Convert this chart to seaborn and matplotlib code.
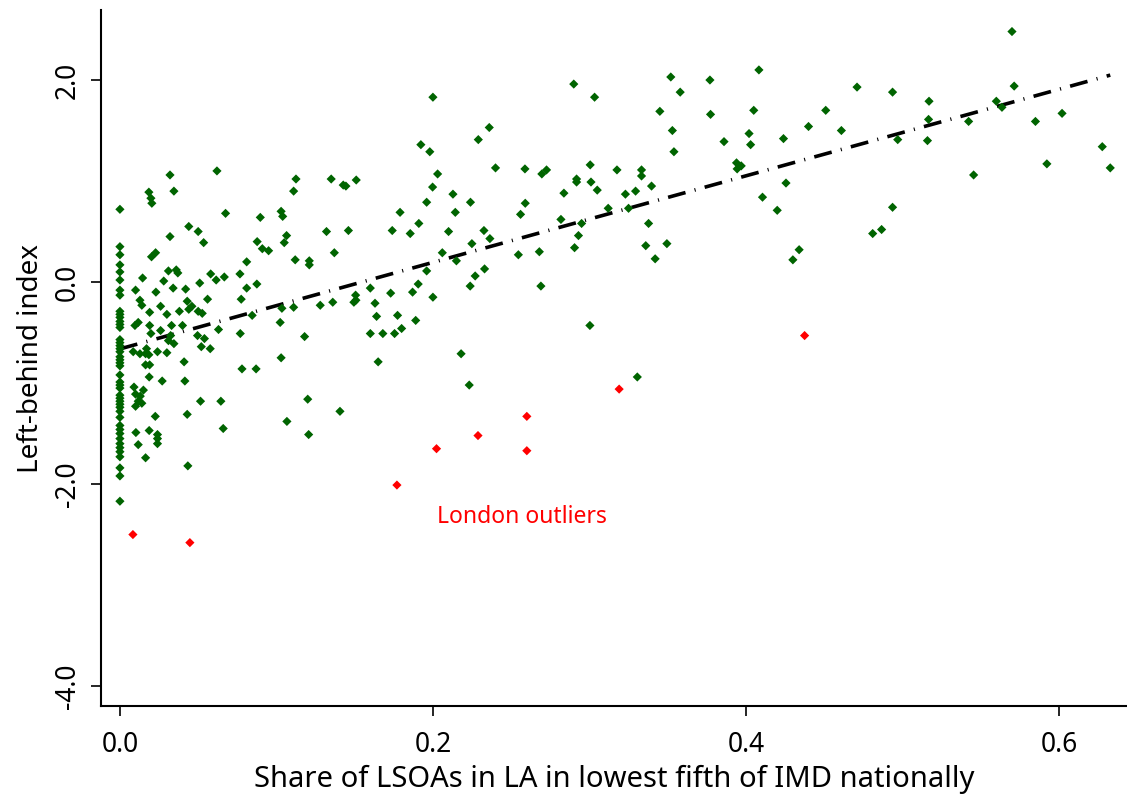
import numpy as np
import pandas as pd
import matplotlib
matplotlib.use("Agg")
import matplotlib.pyplot as plt
import seaborn as sns

# share of LSOAs in lowest IMD fifth (x) and left-behind index (y)
green_share = [
    # LAs with no LSOA in the lowest fifth
    0.0, 0.0, 0.0, 0.0, 0.0, 0.0, 0.0, 0.0, 0.0, 0.0, 0.0, 0.0, 0.0, 0.0, 0.0,
    0.0, 0.0, 0.0, 0.0, 0.0, 0.0, 0.0, 0.0, 0.0, 0.0, 0.0, 0.0, 0.0, 0.0, 0.0,
    0.0, 0.0, 0.0, 0.0, 0.0, 0.0, 0.0, 0.0, 0.0, 0.0, 0.0, 0.0, 0.0, 0.0, 0.0,
    # 0 - 0.07, upper half
    0.032, 0.062, 0.0185, 0.0345, 0.0198, 0.0204, 0.0675, 0.044, 0.050, 0.032,
    0.0535, 0.0228, 0.0202, 0.0145, 0.031, 0.036, 0.037, 0.028, 0.058, 0.0615,
    0.0667, 0.010, 0.034, 0.042, 0.023, 0.051, 0.0128, 0.014, 0.043, 0.056,
    0.026, 0.046, 0.044, 0.050, 0.0526, 0.019, 0.030, 0.038, 0.0117, 0.0096,
    0.019, 0.033, 0.040, 0.063,
    # 0 - 0.07, lower half
    0.0198, 0.026, 0.0324, 0.031, 0.0345, 0.0496, 0.054, 0.052, 0.0577, 0.017,
    0.0085, 0.0128, 0.0164, 0.0185, 0.024, 0.030, 0.0164, 0.019, 0.041, 0.0187,
    0.027, 0.0415, 0.009, 0.015, 0.010, 0.013, 0.0117, 0.014, 0.010, 0.0515,
    0.0645, 0.043, 0.0226, 0.0102, 0.0187, 0.024, 0.024, 0.024, 0.066, 0.0117,
    0.0164, 0.0434,
    # 0.07 - 0.2
    0.1125, 0.111, 0.135, 0.1427, 0.1444, 0.151, 0.196, 0.0897, 0.103, 0.104,
    0.179, 0.191, 0.132, 0.146, 0.174, 0.1855, 0.1065, 0.105, 0.0877, 0.091,
    0.095, 0.137, 0.081, 0.112, 0.121, 0.121, 0.0767, 0.081, 0.0875, 0.0775,
    0.196, 0.1906, 0.187, 0.160, 0.173, 0.1506, 0.1508, 0.1495, 0.163, 0.111,
    0.1035, 0.128, 0.136, 0.0845, 0.1024, 0.164, 0.1774, 0.189, 0.180,
    0.0769, 0.118, 0.160, 0.168, 0.1755, 0.103, 0.078, 0.087, 0.165, 0.120,
    0.1406, 0.1067, 0.1206,
    # 0.2 - 0.33
    0.200, 0.290, 0.3033, 0.236, 0.229, 0.1923, 0.198, 0.203, 0.240, 0.2588,
    0.2696, 0.2726, 0.3005, 0.3176, 0.1998, 0.2918, 0.2918, 0.301, 0.305, 0.2837,
    0.323, 0.3295, 0.2128, 0.224, 0.2143, 0.259, 0.256, 0.312, 0.325, 0.2818,
    0.295, 0.210, 0.2326, 0.2364, 0.293, 0.2249, 0.2905, 0.206, 0.215, 0.2546,
    0.268, 0.233, 0.227, 0.2238, 0.269, 0.200,
    0.3003, 0.218, 0.2232, 0.3306,
    # 0.33 - 0.48
    0.352, 0.377, 0.4083, 0.471, 0.358, 0.345, 0.3774, 0.405, 0.451, 0.353,
    0.440, 0.461, 0.402, 0.403, 0.386, 0.424, 0.354, 0.394, 0.397, 0.3944,
    0.3333, 0.3333, 0.3397, 0.4256, 0.4106, 0.420, 0.3378, 0.336, 0.3495, 0.342,
    0.434, 0.430, 0.481,
    # 0.48+
    0.570, 0.4937, 0.517, 0.5714, 0.560, 0.5636, 0.5167, 0.5423, 0.585, 0.602,
    0.497, 0.516, 0.6277, 0.6328, 0.5923, 0.5455, 0.4937, 0.4867,
]

green_index = [
    0.72, 0.35, 0.27, 0.17, 0.10, 0.02, -0.08, -0.13, -0.29, -0.32, -0.35, -0.39, -0.42, -0.45, -0.57,
    -0.60, -0.63, -0.66, -0.69, -0.74, -0.77, -0.80, -0.83, -0.92, -0.99, -1.02, -1.05, -1.12, -1.15, -1.18,
    -1.21, -1.24, -1.28, -1.34, -1.42, -1.46, -1.50, -1.55, -1.60, -1.64, -1.68, -1.73, -1.84, -1.92, -2.17,

    1.06, 1.10, 0.89, 0.90, 0.83, 0.78, 0.68, 0.55, 0.50, 0.45,
    0.39, 0.29, 0.25, 0.04, 0.11, 0.12, 0.09, 0.01, 0.08, 0.02,
    0.05, -0.08, -0.06, -0.07, -0.10, -0.01, -0.18, -0.23, -0.19, -0.17,
    -0.24, -0.24, -0.27, -0.29, -0.31, -0.30, -0.32, -0.29, -0.40, -0.43,
    -0.43, -0.43, -0.43, -0.47,

    -0.51, -0.48, -0.53, -0.58, -0.61, -0.53, -0.56, -0.64, -0.66, -0.66,
    -0.69, -0.71, -0.71, -0.72, -0.69, -0.70, -0.82, -0.82, -0.79, -0.94,
    -0.98, -0.98, -1.04, -1.07, -1.11, -1.13, -1.18, -1.20, -1.23, -1.18,
    -1.18, -1.31, -1.33, -1.49, -1.47, -1.51, -1.55, -1.60, -1.45, -1.61,
    -1.74, -1.82,

    1.02, 0.90, 1.02, 0.96, 0.95, 1.01, 0.79, 0.64, 0.70, 0.65,
    0.69, 0.58, 0.50, 0.51, 0.51, 0.48, 0.46, 0.39, 0.40, 0.33,
    0.31, 0.29, 0.20, 0.22, 0.21, 0.17, 0.08, -0.06, -0.02, -0.17,
    0.11, -0.02, -0.10, -0.06, -0.11, -0.13, -0.18, -0.20, -0.21, -0.25,
    -0.26, -0.23, -0.20, -0.33, -0.40, -0.34, -0.33, -0.38, -0.46,
    -0.51, -0.54, -0.51, -0.51, -0.51, -0.75, -0.86, -0.86, -0.79, -1.16,
    -1.28, -1.38, -1.51,

    1.83, 1.96, 1.83, 1.53, 1.41, 1.36, 1.29, 1.07, 1.13, 1.12,
    1.07, 1.11, 1.16, 1.11, 0.94, 1.02, 0.99, 0.99, 0.91, 0.88,
    0.87, 0.90, 0.87, 0.79, 0.69, 0.78, 0.67, 0.73, 0.73, 0.62,
    0.58, 0.50, 0.51, 0.43, 0.46, 0.38, 0.34, 0.29, 0.21, 0.27,
    0.30, 0.13, 0.06, -0.04, -0.04, -0.15,
    -0.43, -0.71, -1.02, -0.94,

    2.03, 2.00, 2.10, 1.93, 1.88, 1.69, 1.66, 1.70, 1.70, 1.50,
    1.54, 1.50, 1.47, 1.36, 1.39, 1.42, 1.29, 1.18, 1.15, 1.12,
    1.11, 1.05, 0.95, 0.98, 0.84, 0.71, 0.58, 0.36, 0.38, 0.23,
    0.32, 0.22, 0.48,

    2.48, 1.88, 1.79, 1.94, 1.79, 1.73, 1.61, 1.59, 1.59, 1.67,
    1.41, 1.40, 1.34, 1.13, 1.17, 1.06, 0.74, 0.52,
]

# London outliers
red_share = [0.0083, 0.0447, 0.177, 0.2023, 0.2288, 0.260, 0.260, 0.319, 0.4375]
red_index = [-2.50, -2.58, -2.01, -1.65, -1.52, -1.33, -1.67, -1.06, -0.53]

xticks = [0.0, 0.2, 0.4, 0.6]
yticks = [-4.0, -2.0, 0.0, 2.0]

df = pd.DataFrame({
    "share": green_share + red_share,
    "index": green_index + red_index,
    "group": ["Other"] * len(green_share) + ["London"] * len(red_share),
})

sns.set_style("white")
plt.rcParams["font.family"] = ["Noto Sans", "DejaVu Sans"]
plt.rcParams["text.color"] = "black"
plt.rcParams["axes.labelcolor"] = "black"
plt.rcParams["xtick.color"] = "black"
plt.rcParams["ytick.color"] = "black"

fig = plt.figure(figsize=(11.27, 7.96), dpi=100)
ax = fig.add_axes([0.0896, 0.113, 0.9104, 0.8744])

sns.scatterplot(data=df, x="share", y="index", hue="group",
                palette={"Other": "#006400", "London": "#ff0000"},
                marker="D", s=22, linewidth=0, legend=False, ax=ax, zorder=3)

# fitted line, long dash - dot
sns.regplot(data=df, x="share", y="index", scatter=False, ci=None, ax=ax,
            line_kws=dict(color="black", lw=2.6, dashes=(5, 2.6, 0.3, 2.6)))

ax.text(0.2026, -2.33, "London outliers", color="red", fontsize=16.5, va="center", ha="left")

ax.set_xlim(-0.0121, 0.6435)
ax.set_ylim(-4.198, 2.693)
ax.set_xticks(xticks)
ax.set_xticklabels([f"{t:.1f}" for t in xticks])
ax.set_yticks(yticks)
ax.set_yticklabels([f"{t:.1f}" for t in yticks], rotation=90, va="center")

for side in ["top", "right"]:
    ax.spines[side].set_visible(False)
for side in ["left", "bottom"]:
    ax.spines[side].set_color("black")
    ax.spines[side].set_linewidth(1.5)

ax.tick_params(axis="both", direction="out", length=7, width=1.2,
               bottom=True, left=True, labelsize=19)
ax.tick_params(axis="x", pad=11)
ax.tick_params(axis="y", pad=7)

ax.set_xlabel("Share of LSOAs in LA in lowest fifth of IMD nationally", fontsize=21, labelpad=4)
ax.set_ylabel("Left-behind index", fontsize=20, labelpad=6)

fig.savefig("out.png", dpi=100)
